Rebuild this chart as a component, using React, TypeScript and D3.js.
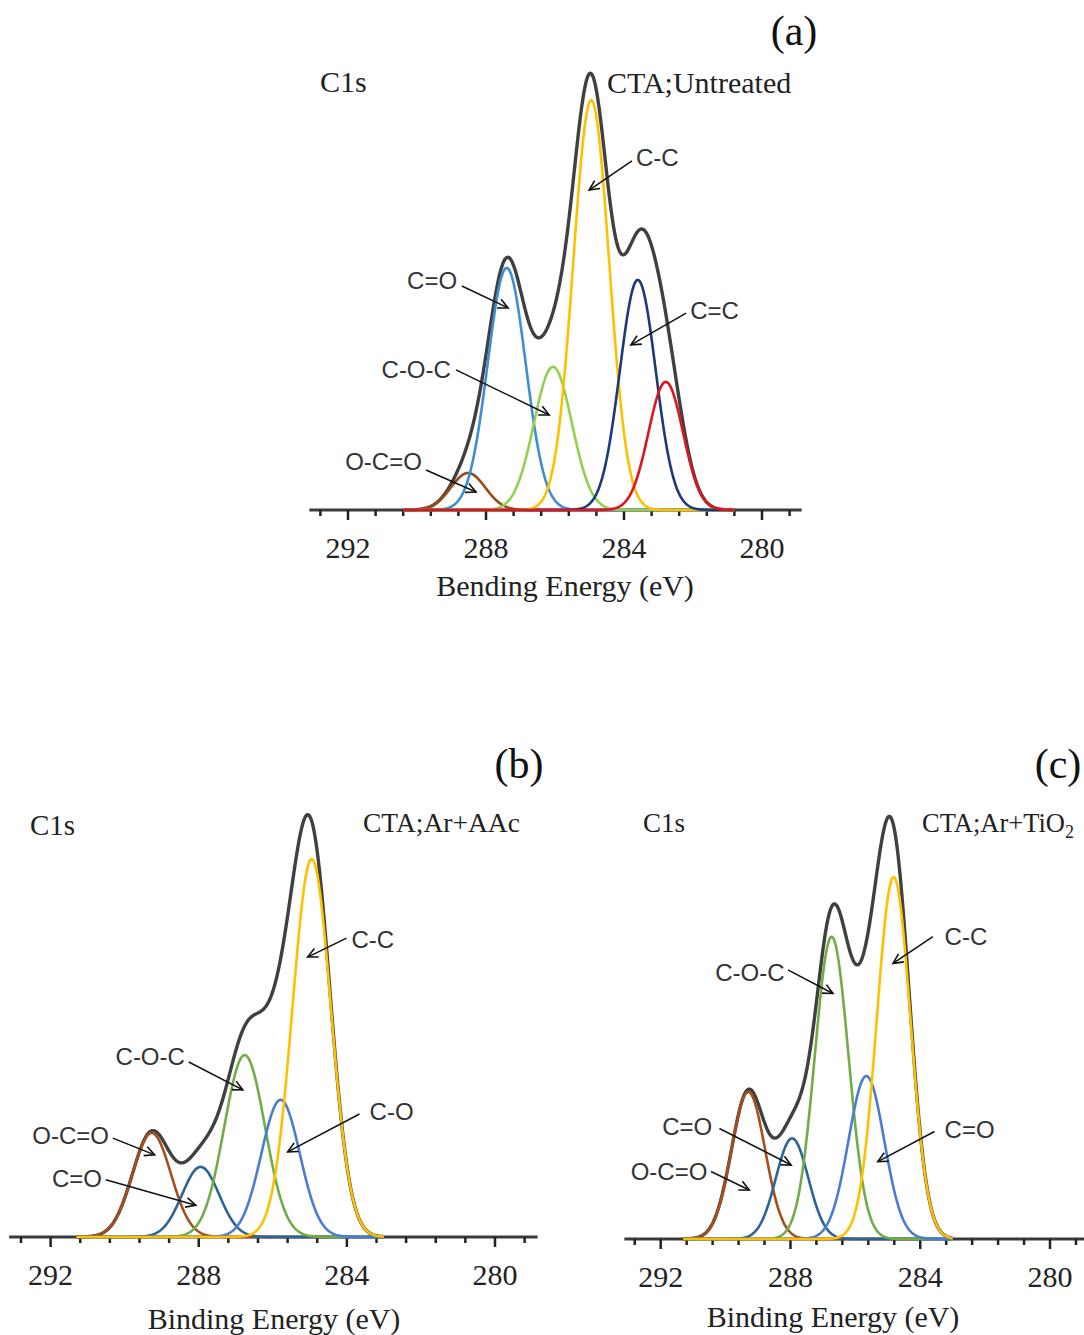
import React from 'react';
import * as d3 from 'd3';

// Binding-energy axis (eV)
const majorTicks = [292, 288, 284, 280];
const minorTicks = [292.8, 292, 291.2, 290.4, 289.6, 288.8, 288, 287.2, 286.4, 285.6, 284.8, 284, 283.2, 282.4, 281.6, 280.8, 280, 279.2];

// (a) CTA; Untreated  -- fitted C1s components (centre eV, height a.u., sigma eV)
const aNames = ['O-C=O', 'C=O', 'C-O-C', 'C-C', 'C=C', 'C'];
const aCenter = [288.52, 287.4, 286.06, 284.95, 283.6, 282.79];
const aHeight = [8.6, 56.3, 33.3, 95.3, 53.5, 29.8];
const aSigma = [0.5, 0.55, 0.55, 0.52, 0.52, 0.5];
const aColors = ['#9A4A16', '#3D8ED3', '#92D050', '#FFC000', '#1B3A7C', '#E0141E'];

// (b) CTA; Ar+AAc
const bNames = ['O-C=O', 'C=O', 'C-O-C', 'C-O', 'C-C'];
const bCenter = [289.27, 287.95, 286.76, 285.79, 284.95];
const bHeight = [24.2, 16.3, 42.3, 31.9, 87.9];
const bSigma = [0.52, 0.5, 0.55, 0.52, 0.52];
const bColors = ['#A5501C', '#2C6496', '#70AD47', '#4A7CD0', '#FFC000'];

// (c) CTA; Ar+TiO2
const cNames = ['O-C=O', 'C=O', 'C-O-C', 'C=O', 'C-C'];
const cCenter = [289.3, 287.95, 286.73, 285.66, 284.82];
const cHeight = [34.2, 23.4, 70.3, 37.9, 84.2];
const cSigma = [0.52, 0.5, 0.52, 0.55, 0.52];
const cColors = bColors;

type Note = { text: string; at: [number, number]; from: [number, number]; to: [number, number]; anchor: 'start' | 'end' };

const aNotes: Note[] = [
  { text: 'C-C', at: [283.71, 81.9], from: [283.77, 81.2], to: [285.01, 74.4], anchor: 'start' },
  { text: 'C=O', at: [288.78, 53.3], from: [288.7, 52.1], to: [287.36, 47.0], anchor: 'end' },
  { text: 'C=C', at: [282.14, 46.5], from: [282.2, 45.8], to: [283.8, 38.4], anchor: 'start' },
  { text: 'C-O-C', at: [288.96, 32.6], from: [288.87, 32.6], to: [286.17, 22.1], anchor: 'end' },
  { text: 'O-C=O', at: [289.8, 11.2], from: [289.74, 9.3], to: [288.29, 4.2], anchor: 'end' },
];
const bNotes: Note[] = [
  { text: 'C-C', at: [283.93, 69.3], from: [284.01, 69.5], to: [285.06, 65.1], anchor: 'start' },
  { text: 'C-O-C', at: [288.32, 41.9], from: [288.27, 40.7], to: [286.81, 34.2], anchor: 'end' },
  { text: 'C-O', at: [283.44, 29.1], from: [283.66, 28.6], to: [285.6, 19.8], anchor: 'start' },
  { text: 'O-C=O', at: [290.37, 23.5], from: [290.32, 23.0], to: [289.19, 19.1], anchor: 'end' },
  { text: 'C=O', at: [290.56, 13.7], from: [290.51, 13.3], to: [288.08, 7.4], anchor: 'end' },
];
const cNotes: Note[] = [
  { text: 'C-C', at: [283.31, 70.3], from: [283.61, 70.3], to: [284.84, 64.1], anchor: 'start' },
  { text: 'C-O-C', at: [288.12, 61.9], from: [288.08, 62.6], to: [286.69, 57.1], anchor: 'end' },
  { text: 'C=O', at: [283.31, 25.4], from: [283.56, 25.0], to: [285.31, 18.0], anchor: 'start' },
  { text: 'C=O', at: [290.35, 26.1], from: [290.19, 25.7], to: [287.98, 17.2], anchor: 'end' },
  { text: 'O-C=O', at: [290.5, 15.7], from: [290.45, 15.7], to: [289.27, 11.4], anchor: 'end' },
];

const SERIF = '"Liberation Serif", "Times New Roman", serif';
const SANS = '"Liberation Sans", Arial, sans-serif';

type PanelProps = {
  names: string[]; center: number[]; height: number[]; sigma: number[]; colors: string[];
  notes: Note[];
  x292: number; x280: number; base: number;
  eRange: [number, number];
  tag: string; tagX: number; tagY: number;
  xTitle: string; titleX: number; titleY: number;
  c1s: [number, number, number];
  sample: React.ReactNode; sampleX: number; sampleY: number; sampleSize: number;
};

function Spectrum(p: PanelProps) {
  const x = d3.scaleLinear().domain([292, 280]).range([p.x292, p.x280]);
  const y = d3.scaleLinear().domain([0, 100]).range([p.base, p.base - 430]);
  const grid = d3.range(p.eRange[1], p.eRange[0] - 1e-9, -0.02);
  const comp = (k: number, e: number) =>
    p.height[k] * Math.exp(-((e - p.center[k]) ** 2) / (2 * p.sigma[k] ** 2));
  const line = d3.line<[number, number]>().x(d => x(d[0])).y(d => y(d[1]));
  const total = line(grid.map(e => [e, p.names.reduce((s, _, k) => s + comp(k, e), 0)]));

  const arrowHead = (n: Note) => {
    const x1 = x(n.from[0]), y1 = y(n.from[1]);
    const x2 = x(n.to[0]), y2 = y(n.to[1]);
    const a = Math.atan2(y2 - y1, x2 - x1);
    const L = 11, w = 0.45;
    const p1 = [x2 - L * Math.cos(a - w), y2 - L * Math.sin(a - w)];
    const p2 = [x2 - L * Math.cos(a + w), y2 - L * Math.sin(a + w)];
    return `M${p1[0]},${p1[1]}L${x2},${y2}L${p2[0]},${p2[1]}`;
  };

  return (
    <g>
      {/* axis */}
      <line x1={x(293.12)} x2={x(278.85)} y1={p.base} y2={p.base} stroke="#3a3a3a" strokeWidth={3} />
      {minorTicks.map(t => (
        <line key={t} x1={x(t)} x2={x(t)} y1={p.base}
          y2={p.base + (majorTicks.includes(t) ? 10 : 6)} stroke="#222" strokeWidth={2.5} />
      ))}
      {majorTicks.map(t => (
        <text key={t} x={x(t)} y={p.base + 48} textAnchor="middle" fontFamily={SERIF} fontSize={30} fill="#222">{t}</text>
      ))}
      <text x={p.titleX} y={p.titleY} textAnchor="middle" fontFamily={SERIF} fontSize={30} fill="#222">{p.xTitle}</text>

      {/* envelope, then fitted components */}
      <path d={total || ''} fill="none" stroke="#404040" strokeWidth={3.4} strokeLinejoin="round" />
      {p.names.map((nm, k) => (
        <path key={k} d={line(grid.map(e => [e, comp(k, e)])) || ''} fill="none"
          stroke={p.colors[k]} strokeWidth={2.6} strokeLinejoin="round" />
      ))}

      {/* annotations */}
      {p.notes.map((n, i) => (
        <g key={i}>
          <line x1={x(n.from[0])} y1={y(n.from[1])} x2={x(n.to[0])} y2={y(n.to[1])} stroke="#111" strokeWidth={1.5} />
          <path d={arrowHead(n)} fill="none" stroke="#111" strokeWidth={1.6} />
          <text x={x(n.at[0]) + (n.anchor === 'start' ? 2 : -2)} y={y(n.at[1]) + 8.5} textAnchor={n.anchor}
            fontFamily={SANS} fontSize={24} fill="#333">{n.text}</text>
        </g>
      ))}

      <text x={p.c1s[0]} y={p.c1s[1]} fontFamily={SERIF} fontSize={p.c1s[2]} fill="#222">C1s</text>
      <text x={p.sampleX} y={p.sampleY} fontFamily={SERIF} fontSize={p.sampleSize} fill="#222">{p.sample}</text>
      <text x={p.tagX} y={p.tagY} textAnchor="middle" fontFamily={SERIF} fontSize={42} fill="#111">{p.tag}</text>
    </g>
  );
}

export default function App() {
  return (
    <svg width={1084} height={1335} style={{ position: 'absolute', left: 0, top: 0, background: '#fff' }}>
      <rect width={1084} height={1335} fill="#fff" />
      <Spectrum names={aNames} center={aCenter} height={aHeight} sigma={aSigma} colors={aColors} notes={aNotes}
        x292={348} x280={762} base={510} eRange={[280.8, 290.4]}
        tag="(a)" tagX={794} tagY={45}
        xTitle="Bending Energy (eV)" titleX={565} titleY={596}
        c1s={[320, 92, 30]} sample="CTA;Untreated" sampleX={607} sampleY={93} sampleSize={30} />
      <Spectrum names={bNames} center={bCenter} height={bHeight} sigma={bSigma} colors={bColors} notes={bNotes}
        x292={50.6} x280={495} base={1237} eRange={[283.0, 291.3]}
        tag="(b)" tagX={519} tagY={778}
        xTitle="Binding Energy (eV)" titleX={274} titleY={1329}
        c1s={[30, 835, 29]} sample="CTA;Ar+AAc" sampleX={363} sampleY={832} sampleSize={27.5} />
      <Spectrum names={cNames} center={cCenter} height={cHeight} sigma={cSigma} colors={cColors} notes={cNotes}
        x292={660.7} x280={1050} base={1239} eRange={[283.0, 291.3]}
        tag="(c)" tagX={1058} tagY={778}
        xTitle="Binding Energy (eV)" titleX={833} titleY={1327}
        c1s={[643, 832, 27]}
        sample={<>CTA;Ar+TiO<tspan dy={6} fontSize={18}>2</tspan></>}
        sampleX={922} sampleY={832} sampleSize={26.5} />
    </svg>
  );
}
